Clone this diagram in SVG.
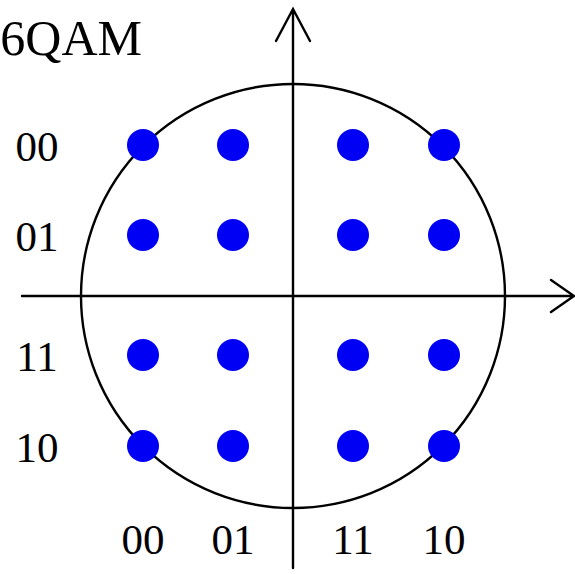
<svg xmlns="http://www.w3.org/2000/svg" width="575" height="574" viewBox="0 0 575 574">
<style>
.ln{fill:none;stroke:#000;stroke-width:2.4;stroke-linecap:round}
.pt{fill:#0000f5}
.lb{font-family:"Liberation Serif",serif;font-size:43px;fill:#000;text-anchor:middle}
.tt{font-family:"Liberation Serif",serif;font-size:50px;fill:#000;text-anchor:end}
</style>
<g id="connectors">
<circle class="ln" cx="293" cy="296" r="212" stroke-width="2.2"/>
<path class="ln" d="M22 296H574M551 280L574 296L551 312"/>
<path class="ln" d="M293 568V9M276 41L293 9L310 41"/>
</g>
<g id="title"><text class="tt" x="142" y="55">16QAM</text></g>
<g id="points">
<circle class="pt" cx="143" cy="145" r="16"/><circle class="pt" cx="233" cy="145" r="16"/><circle class="pt" cx="353" cy="145" r="16"/><circle class="pt" cx="444" cy="145" r="16"/>
<circle class="pt" cx="143" cy="235" r="16"/><circle class="pt" cx="233" cy="235" r="16"/><circle class="pt" cx="353" cy="235" r="16"/><circle class="pt" cx="444" cy="235" r="16"/>
<circle class="pt" cx="143" cy="355" r="16"/><circle class="pt" cx="233" cy="355" r="16"/><circle class="pt" cx="353" cy="355" r="16"/><circle class="pt" cx="444" cy="355" r="16"/>
<circle class="pt" cx="143" cy="446" r="16"/><circle class="pt" cx="233" cy="446" r="16"/><circle class="pt" cx="353" cy="446" r="16"/><circle class="pt" cx="444" cy="446" r="16"/>
</g>
<g id="labels">
<text class="lb" x="37" y="161">00</text>
<text class="lb" x="37" y="251">01</text>
<text class="lb" x="37" y="371">11</text>
<text class="lb" x="37" y="462">10</text>
<text class="lb" x="143" y="554">00</text>
<text class="lb" x="233" y="554">01</text>
<text class="lb" x="353" y="554">11</text>
<text class="lb" x="444" y="554">10</text>
</g>
</svg>
